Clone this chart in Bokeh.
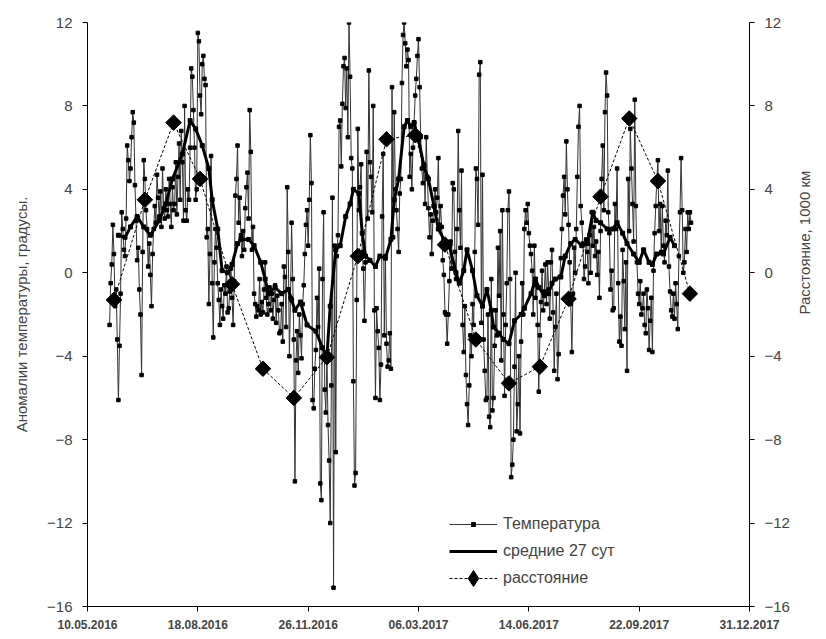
import numpy as np
import pandas as pd
from bokeh.plotting import figure
from bokeh.models import (Range1d, LinearAxis, FixedTicker, Legend, LegendItem,
                          DatetimeTickFormatter)
from bokeh.embed import file_html
from bokeh.resources import INLINE

# ---------------- data ----------------
base_date = "2016-05-10"
temp_start = "2016-05-30"
temp_values = [
    -2.5, -0.5, 0.4, 2.3, 0.9, -1.6, -0.8, -3.2, -6.1, -3.5,
    -1.0, 2.9, 2.1, 1.1, 0.8, 2.6, 6.1, 5.4, 4.4, 5.0,
    6.5, 7.7, 7.2, 4.2, 2.5, 0.6, 1.2, -0.8, -2.0, -4.9,
    1.0, 5.4, 4.5, 3.0, 2.1, 0.3, 1.4, -0.1, -1.6, 0.9,
    2.1, 3.2, 2.4, 4.7, 3.6, 2.7, 3.9, 2.2, 5.0, 3.1,
    2.6, 4.0, 3.0, 2.7, 4.5, 3.3, 2.2, 4.1, 3.0, 3.3,
    5.3, 2.8, 4.6, 6.2, 3.5, 6.8, 5.3, 2.5, 8.0, 3.0,
    2.5, 4.0, 3.5, 6.0, 9.8, 9.4, 7.8, 6.0, 3.5, 4.0,
    11.5, 11.1, 8.5, 7.6, 10.0, 10.4, 9.3, 9.0, 1.7, 2.1,
    -1.5, 0.9, 5.6, -0.5, -3.1, 0.5, 2.1, 1.2, -0.5, -1.3,
    -2.5, -0.8, -1.6, -2.2, -0.6, -1.0, 0.3, -1.9, -1.7, -0.9,
    0.2, -1.2, -2.5, -0.4, 3.7, 4.5, 6.1, 2.4, 3.6, 1.8,
    0.8, 2.0, 1.1, 3.1, 4.1, 4.8, 2.6, 7.8, 5.8, 1.1,
    2.2, -1.0, -1.5, -2.1, -1.6, -1.8, -0.3, -2.0, -1.4, -1.9,
    -0.8, 0.5, -1.2, -2.0, -1.5, -0.7, -1.8, -1.0, -2.2, -1.3,
    -0.6, -2.4, -1.1, -1.8, -2.9, -2.8, -1.5, -3.3, 0.3, -0.2,
    -2.6, 4.1, 1.0, -4.0, -1.2, 2.4, -0.3, -3.2, -10.0, -4.2,
    -2.8, -4.8, -2.0, -3.0, -4.1, -1.5, -0.6, 0.9, 2.3, 3.0,
    1.3, 3.5, 6.6, 4.3, -6.1, -6.5, -4.6, -3.7, -1.2, -2.6,
    0.2, -10.1, -10.9, -0.3, 2.9, -5.6, -6.7, -3.9, -7.3, -9.0,
    -12.0, -5.4, 3.6, -15.1, 1.3, -8.6, 0.8, 1.8, 7.0, 7.3,
    5.1, 8.1, 9.9, 10.3, 7.9, 9.8, 6.5, 12.0, 9.4, 5.5,
    5.0, -5.2, -10.2, -9.6, -1.3, 6.9, 3.0, 4.1, 5.2, 1.0,
    0.2, -2.3, 0.5, 5.8, 2.6, 9.7, 5.3, 4.6, 2.9, 8.0,
    -1.8, -6.0, -1.7, -2.8, -3.6, -6.1, -4.4, 2.7, 5.7, -3.0,
    0.8, -3.4, -4.5, -4.2, -2.9, -4.6, 8.9, 1.7, 7.7, 4.0,
    3.0, 2.1, 1.0, 3.8, 4.5, 9.1, 11.4, 12.0, 11.0, 9.9,
    10.7, 10.2, 4.6, 5.7, 4.0, 6.0, 7.2, 8.5, 9.3, 10.4,
    11.2, 8.9, 6.5, 5.0, 4.3, 5.2, 3.3, 6.5, 4.6, 3.1,
    1.7, 2.8, 0.9, 2.5, 3.2, 4.0, 2.9, 3.6, 5.5, 2.3,
    3.2, 2.2, 0.6, -0.1, -1.9, -2.0, -3.4, -2.0, -0.4, 1.5,
    0.2, 4.3, 4.0, 1.0, -0.3, 2.1, 6.8, 3.0, 1.2, 4.9,
    -2.5, -3.8, -1.6, -4.9, -6.3, -7.3, -5.4, -3.0, -4.0, -1.5,
    -2.5, 1.0, 5.0, 4.5, 2.3, 9.5, 10.1, -2.4, 4.7, -3.2,
    -4.7, -6.1, -6.0, -2.0, -6.9, -7.4, -0.3, -6.6, -6.0, -3.5,
    -1.8, -3.0, 1.2, -1.1, 2.0, -4.2, 3.0, -2.0, -5.9, -2.5,
    -0.5, 3.0, 3.9, -0.3, -9.8, -9.2, -8.0, -4.5, 0.0, -7.6,
    -6.3, -4.0, -7.7, -3.3, -0.5, -2.0, 2.1, 3.0, 2.4, 3.3,
    1.9, 1.3, 0.9, 0.1, -2.0, 1.3, -1.2, -0.6, -2.5, -5.7,
    -3.0, -1.4, 0.1, -1.8, -0.9, 0.4, -1.5, 0.5, -0.8, -2.2,
    0.5, 1.1, -1.9, -4.7, -2.6, -1.0, -5.1, -3.9, -0.2, 0.7,
    2.1, 3.7, 4.6, 2.8, 6.3, 4.0, 2.3, 0.5, -1.5, -3.8,
    -1.0, 1.2, 0.0, 2.1, 4.6, 7.0, 8.0, 3.2, 2.4, 1.4,
    -0.3, 0.3, 1.6, 1.0, -0.5, 1.8, 0.0, 2.9, 1.3, 2.2,
    0.8, 1.5, -0.1, 1.0, -1.2, 2.0, 4.5, 6.1, 3.0, 7.7,
    9.6, 8.5, 2.9, 1.9, -0.8, 0.1, -1.8, -1.7, 3.3, 2.1,
    5.0, -0.5, -3.3, -2.1, -3.5, 1.1, -0.4, -2.7, 0.5, -4.7,
    4.5, 2.0, 6.9, 5.0, 3.3, 1.5, 8.3, 3.2, 0.5, -1.0,
    -1.5, -0.4, -2.0, -1.7, -1.0, -2.5, -2.9, -0.8, -1.7, -3.7,
    -2.3, -1.2, -3.8, 0.1, 1.9, 3.2, 4.5, 5.4, 2.0, 3.3,
    1.0, 3.2, 1.3, 0.5, 2.5, 1.8, 4.9, 0.3, -0.9, -1.8,
    -2.1, -1.0, -2.2, -0.5, -1.5, -2.7, 0.8, 2.9, 5.5, 3.0,
    0.0, 0.5, 2.1, 1.0, 2.9, 2.1, 2.9, 2.4,
]

# 27-day running mean: day offsets from base_date and values
mean_day_offsets = [
    28, 34, 39, 45, 51, 57, 65, 71, 77, 86, 93, 98, 104, 110, 113, 118, 122,
    127, 131, 136, 139, 146, 151, 157, 161, 164, 170, 176, 182, 185, 188, 193,
    199, 207, 213, 217, 220, 225, 229, 234, 238, 241, 246, 249, 252, 256, 261,
    265, 270, 275, 278, 282, 287, 290, 293, 296, 300, 305, 309, 314, 318, 323,
    328, 334, 337, 341, 344, 349, 353, 358, 362, 366, 368, 373, 377, 382, 387,
    393, 396, 402, 406, 409, 414, 418, 421, 424, 429, 433, 438, 442, 448, 453,
    458, 461, 465, 471, 476, 480, 485, 489, 495, 500, 504, 509, 512, 516, 522,
    528, 532,
]
mean_values = [
    1.8, 1.7, 2.2, 2.7, 2.2, 1.8, 2.5, 3.3, 4.5, 5.7, 7.3, 6.9, 6.1, 5.0, 3.5, 2.1, 0.1,
    0.0, 0.4, 1.4, 1.6, 1.6, 1.3, 0.5, -0.3, -1.0, -0.7, -1.0, -0.8, -1.3, -1.8, -1.4,
    -2.5, -2.8, -3.6, -4.0, -1.6, 1.1, 1.3, 2.7, 3.3, 4.0, 3.8, 1.9, 0.8, 0.6, 0.3,
    0.8, 0.7, 1.6, 3.5, 4.5, 7.0, 7.3, 7.0, 7.2, 6.4, 5.1, 4.5, 3.2, 2.1, 1.6,
    1.3, 0.0, -0.5, 0.1, 1.1, 0.1, -1.1, -1.6, -0.8, -1.8, -2.6, -2.9, -3.2, -3.4, -2.3,
    -2.0, -1.7, -1.0, -0.3, -0.7, -1.1, -1.0, -0.5, -0.3, -0.2, 0.8, 1.4, 1.6, 1.3, 1.4,
    2.9, 2.5, 2.4, 2.1, 2.1, 2.4, 1.9, 1.4, 0.9, 0.5, 1.1, 0.5, 0.4, 0.9, 0.9,
    1.7, 1.3,
]

# distance (1000 km): day offsets from base_date and values
dist_day_offsets = [24, 52, 78, 102, 131, 159, 187, 217, 245, 271,
                    297, 324, 352, 382, 410, 436, 465, 491, 517, 546]
dist_values = [-1.3, 3.5, 7.2, 4.5, -0.55, -4.6, -6.0, -4.05, 0.8, 6.4,
               6.6, 1.35, -3.2, -5.3, -4.5, -1.25, 3.65, 7.4, 4.4, -1.0]

x_tick_dates = ["2016-05-10", "2016-08-18", "2016-11-26", "2017-03-06",
                "2017-06-14", "2017-09-22", "2017-12-31"]
x_tick_labels = ["10.05.2016", "18.08.2016", "26.11.2016", "06.03.2017",
                 "14.06.2017", "22.09.2017", "31.12.2017"]
y_ticks = [-16, -12, -8, -4, 0, 4, 8, 12]

legend_labels = ["Температура", "средние 27 сут", "расстояние"]
left_title = "Аномалии температуры, градусы."
right_title = "Расстояние, 1000 км"

# ---------------- build ----------------
FONT = "Liberation Sans"
base = pd.Timestamp(base_date)
temp_x = pd.date_range(temp_start, periods=len(temp_values), freq="D")
mean_x = base + pd.to_timedelta(mean_day_offsets, unit="D")
dist_x = base + pd.to_timedelta(dist_day_offsets, unit="D")

tick_ms = [float((pd.Timestamp(d) - pd.Timestamp("1970-01-01")) / pd.Timedelta(milliseconds=1))
           for d in x_tick_dates]

p = figure(width=826, height=639, x_axis_type="datetime",
           x_range=Range1d(pd.Timestamp(x_tick_dates[0]), pd.Timestamp(x_tick_dates[-1])),
           y_range=Range1d(y_ticks[0], y_ticks[-1]),
           output_backend="svg", toolbar_location=None,
           min_border_left=87, min_border_right=77, min_border_top=22, min_border_bottom=33)
p.outline_line_color = None
p.xgrid.visible = False
p.ygrid.visible = False
p.background_fill_color = "white"
p.border_fill_color = "white"

p.extra_y_ranges = {"dist": Range1d(y_ticks[0], y_ticks[-1])}

# axes styling
xa = p.xaxis[0]
xa.ticker = FixedTicker(ticks=tick_ms)
xa.formatter = DatetimeTickFormatter(days="%d.%m.%Y", months="%d.%m.%Y", years="%d.%m.%Y")
xa.major_label_overrides = {t: lab for t, lab in zip(tick_ms, x_tick_labels)}
xa.major_label_text_font = FONT
xa.major_label_text_font_size = "12px"
xa.major_label_text_font_style = "bold"
xa.major_label_standoff = 8

ya = p.yaxis[0]
ya.ticker = FixedTicker(ticks=y_ticks)
ya.axis_label = left_title
ya.major_label_standoff = 10
ya.axis_label_standoff = 14

ra = LinearAxis(y_range_name="dist", ticker=FixedTicker(ticks=y_ticks), axis_label=right_title)
ra.major_label_standoff = 10
ra.axis_label_standoff = 12
ra.axis_label_orientation = np.pi / 2
p.add_layout(ra, "right")

for ax in [xa, ya, ra]:
    ax.axis_line_color = "black"
    ax.major_tick_line_color = "black"
    ax.major_tick_out = 5
    ax.major_tick_in = 0
    ax.minor_tick_line_color = None
for ax in [ya, ra]:
    ax.major_label_text_font = FONT
    ax.major_label_text_font_size = "15px"
    ax.axis_label_text_font = FONT
    ax.axis_label_text_font_size = "15px"
    ax.axis_label_text_font_style = "normal"

# temperature
t_line = p.line(temp_x, temp_values, line_color="#333333", line_width=1)
t_mark = p.scatter(temp_x, temp_values, marker="square", size=3.5,
                   fill_color="black", line_color="black")
# running mean
m_line = p.line(mean_x, mean_values, line_color="black", line_width=3)
m_mark = p.scatter(mean_x, mean_values, marker="square", size=4,
                   fill_color="black", line_color="black")
# distance
d_line = p.line(dist_x, dist_values, line_color="black", line_width=1,
                line_dash="3 2", y_range_name="dist")
d_mark = p.scatter(dist_x, dist_values, marker="square", angle=np.pi / 4, size=11,
                   fill_color="black", line_color="black", y_range_name="dist")
# legend-only diamond key (a single undrawn NaN point), so the legend shows a diamond
d_key = p.scatter(dist_x[:1], [float("nan")], marker="diamond", size=16,
                  fill_color="black", line_color="black", y_range_name="dist")


def make_legend(item, glyph_h, loc):
    lg = Legend(items=[item], location=loc)
    lg.border_line_color = None
    lg.background_fill_alpha = 0
    lg.label_text_font = FONT
    lg.label_text_font_size = "16px"
    lg.glyph_width = 48
    lg.glyph_height = glyph_h
    lg.label_height = 18
    lg.label_standoff = 6
    lg.padding = 0
    lg.margin = 0
    return lg


p.add_layout(make_legend(LegendItem(label=legend_labels[0], renderers=[t_line, t_mark]),
                         10, (362, 73)), "center")
p.add_layout(make_legend(LegendItem(label=legend_labels[1], renderers=[m_line]),
                         10, (362, 46)), "center")
p.add_layout(make_legend(LegendItem(label=legend_labels[2], renderers=[d_line, d_key]),
                         40, (362, 8)), "center")

open("out.html", "w").write(file_html(p, INLINE))
